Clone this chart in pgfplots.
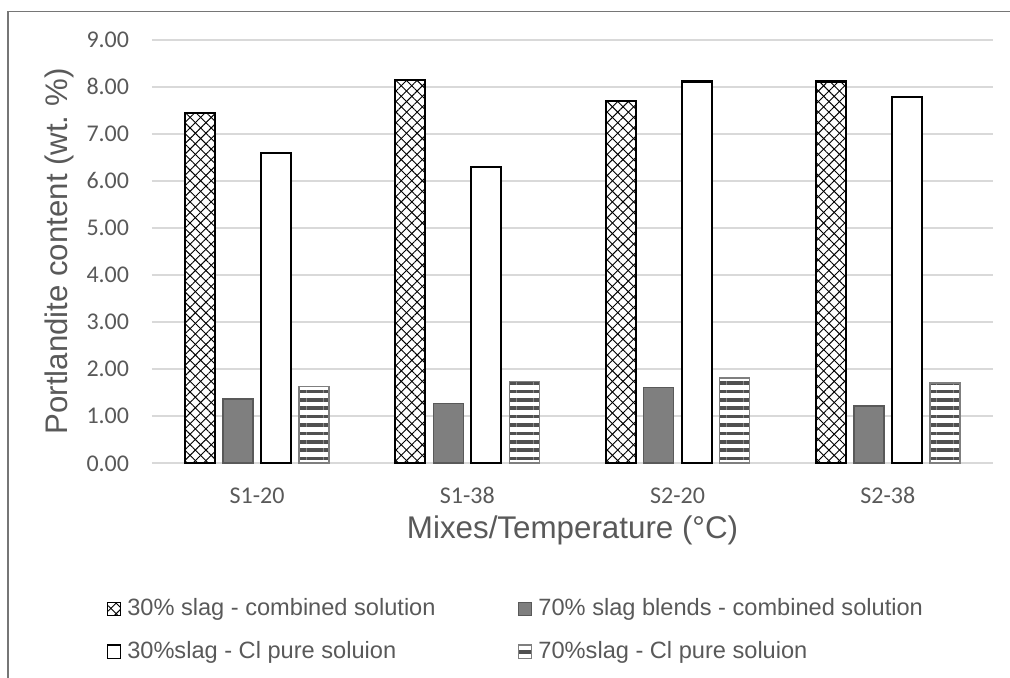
\documentclass[border=0pt]{standalone}
\usepackage{pgfplots}
\pgfplotsset{compat=1.18}
\usetikzlibrary{patterns.meta}
\usepackage{fontspec}
\setmainfont{Liberation Sans}
\newfontfamily\calibri{Carlito}
\frenchspacing

\definecolor{txtgray}{HTML}{595959}
\definecolor{gridgray}{HTML}{D9D9D9}
\definecolor{bargray}{HTML}{7F7F7F}
\definecolor{darkgray}{HTML}{595959}
\definecolor{stripegray}{HTML}{505050}
\definecolor{framegray}{HTML}{767676}

% Portlandite content (wt. %) per mix / temperature
% x: 0=S1-20, 1=S1-38, 2=S2-20, 3=S2-38
\pgfplotstableread{
x  comb30 comb70 pure30 pure70
0  7.44   1.37   6.60   1.63
1  8.14   1.27   6.30   1.74
2  7.69   1.61   8.11   1.81
3  8.11   1.22   7.79   1.71
}\datatable

\begin{document}
\begin{tikzpicture}
% picture extent and outer chart border
\useasboundingbox (-114pt,-160.3pt) rectangle (643.5pt,347.5pt);
\draw[framegray, line width=0.9pt] (-108pt,-161pt) -- (-108pt,338.6pt) -- (644pt,338.6pt);

\begin{axis}[
  scale only axis,
  width=630.75pt, height=317.8pt,
  xmin=-0.5, xmax=3.5,
  ymin=0, ymax=9,
  ytick={0,1,...,9},
  xtick={0,1,2,3},
  xticklabels={S1-20,S1-38,S2-20,S2-38},
  axis line style={draw=none},
  major tick length=0pt,
  ymajorgrids,
  grid style={gridgray, line width=1.4pt},
  /pgf/number format/.cd, fixed, fixed zerofill, precision=2, assume math mode=true,
  /pgfplots/.cd,
  yticklabel style={font=\calibri\fontsize{18}{20}\selectfont, text=txtgray,
    anchor=east, inner sep=0pt, xshift=-17pt},
  xticklabel style={font=\calibri\fontsize{18}{20}\selectfont, text=txtgray,
    anchor=base, inner sep=0pt, yshift=-30pt},
  legend columns=2,
  legend cell align=left,
  legend style={draw=none, fill=none, inner sep=0pt, outer sep=0pt,
    at={(-0.0535,-0.3185)}, anchor=north west,
    font=\fontsize{17.7}{20}\selectfont, text=txtgray,
    nodes={inner sep=0pt, text height=13pt, text depth=3pt},
    row sep=16pt,
    /tikz/every odd column/.append style={column sep=4.5pt},
    /tikz/every even column/.append style={column sep=62pt}},
  legend image code/.code={\draw[#1, line width=0.9pt] (0pt,-4.9pt) rectangle (9.8pt,4.9pt);},
]
\addplot[ybar, bar width=22.5pt, bar shift=-42.75pt, draw=black, line width=1.6pt, fill=white,
  postaction={pattern={Lines[angle=45,distance=5.6pt,line width=0.7pt]}},
  postaction={pattern={Lines[angle=-45,distance=5.6pt,line width=0.7pt]}}]
  table[x=x, y=comb30] {\datatable};
\addlegendentry{30\% slag - combined solution}
\addplot[ybar, bar width=22.5pt, bar shift=-14.25pt, draw=darkgray, line width=1.3pt, fill=bargray]
  table[x=x, y=comb70] {\datatable};
\addlegendentry{70\% slag blends - combined solution}
\addplot[ybar, bar width=22.5pt, bar shift=14.25pt, draw=black, line width=1.6pt, fill=white]
  table[x=x, y=pure30] {\datatable};
\addlegendentry{30\%slag - Cl pure soluion}
\addplot[ybar, bar width=22.5pt, bar shift=42.75pt, draw=bargray, line width=1.3pt, fill=white,
  postaction={pattern={Lines[angle=0,distance=6.3pt,line width=2.7pt]}, pattern color=stripegray}]
  table[x=x, y=pure70] {\datatable};
\addlegendentry{70\%slag - Cl pure soluion}
\end{axis}

% axis titles
\node[rotate=90, anchor=base, text=txtgray, font=\fontsize{23.4}{27}\selectfont]
  at (-63.4pt,158.9pt) {Portlandite content (wt. \%)};
\node[anchor=base, text=txtgray, font=\fontsize{23.5}{26}\selectfont]
  at (315.4pt,-56.3pt) {Mixes/Temperature (°C)};
\end{tikzpicture}
\end{document}
